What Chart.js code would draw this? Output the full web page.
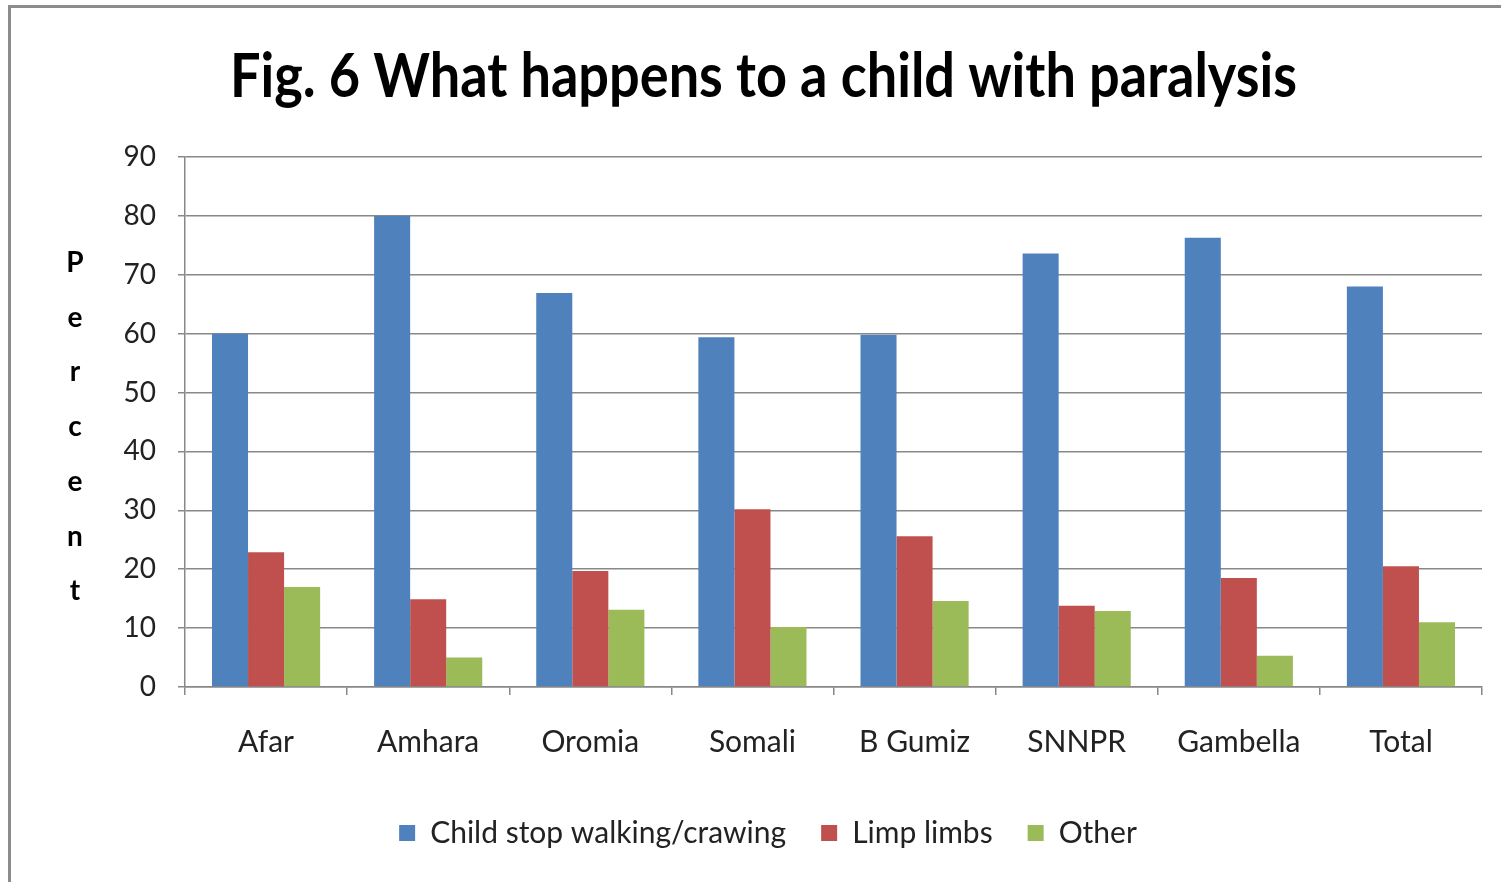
<!DOCTYPE html>
<html><head><meta charset="utf-8">
<script src="https://cdn.jsdelivr.net/npm/chart.js@4/dist/chart.umd.min.js"></script>
<style>
html,body{margin:0;padding:0;background:#fff;}
#wrap{position:relative;width:1501px;height:882px;overflow:hidden;}
#frame{position:absolute;left:8px;top:5px;width:1600px;height:1000px;border-top:3px solid #8c8c8c;border-left:3px solid #8c8c8c;}
canvas{position:absolute;left:0;top:0;}
</style></head><body>
<div id="wrap"><div id="frame"></div><canvas id="c" width="1501" height="882"></canvas></div>
<script>
const categories = ['Afar','Amhara','Oromia','Somali','B Gumiz','SNNPR','Gambella','Total'];
const childStop = [60.0, 80.0, 66.9, 59.4, 59.8, 73.6, 76.3, 68.0];
const limpLimbs = [22.9, 14.9, 19.7, 30.2, 25.6, 13.8, 18.5, 20.5];
const other = [17.0, 5.0, 13.1, 10.2, 14.6, 12.9, 5.3, 11.0];
const seriesNames = ['Child stop walking/crawing','Limp limbs','Other'];
const titleText = 'Fig. 6 What happens to a child with paralysis';
const yTitleLetters = ['P','e','r','c','e','n','t'];
const yMin = 0, yMax = 90, yStep = 10;

const FONT = 'Lato, "Open Sans", sans-serif';

const decor = {
  id: 'decor',
  afterDraw(chart) {
    const ctx = chart.ctx;
    ctx.save();
    ctx.font = 'bold 62px ' + FONT;
    ctx.fillStyle = '#000';
    ctx.textBaseline = 'alphabetic';
    ctx.textAlign = 'left';
    const w = ctx.measureText(titleText).width;
    const sx = 1067 / w;
    ctx.translate(230, 97);
    ctx.scale(sx, 1);
    ctx.fillText(titleText, 0, 0);
    ctx.restore();
    ctx.save();
    ctx.font = 'bold 28px ' + FONT;
    ctx.fillStyle = '#000';
    ctx.textAlign = 'center';
    ctx.textBaseline = 'middle';
    yTitleLetters.forEach((ch, i) => ctx.fillText(ch, 75, 263 + i * 54.7));
    ctx.restore();
  }
};

new Chart(document.getElementById('c'), {
  type: 'bar',
  data: {
    labels: categories,
    datasets: [
      { label: seriesNames[0], data: childStop, backgroundColor: '#4F81BD' },
      { label: seriesNames[1], data: limpLimbs, backgroundColor: '#C0504D' },
      { label: seriesNames[2], data: other, backgroundColor: '#9BBB59' }
    ]
  },
  options: {
    responsive: false,
    animation: false,
    devicePixelRatio: 1,
    datasets: { bar: { categoryPercentage: 0.667, barPercentage: 1.0 } },
    layout: { padding: { top: 157, right: 19, left: 54, bottom: 24 } },
    plugins: {
      title: { display: false },
      tooltip: { enabled: false },
      legend: {
        position: 'bottom',
        labels: {
          boxWidth: 16, boxHeight: 16, padding: 35,
          color: '#222',
          font: { family: FONT, size: 30 }
        }
      }
    },
    scales: {
      x: {
        offset: true,
        afterFit: s => { s.height = 96; },
        grid: { offset: true, drawOnChartArea: false, drawTicks: true, tickLength: 8, color: '#888', lineWidth: 1.5 },
        border: { color: '#888', width: 1.5 },
        ticks: { color: '#222', padding: 29, font: { family: FONT, size: 30 } }
      },
      y: {
        min: yMin, max: yMax,
        afterFit: s => { s.width = 131; },
        grid: { color: '#888', lineWidth: 1.5, tickLength: 7 },
        border: { color: '#888', width: 1.5 },
        ticks: { stepSize: yStep, color: '#222', padding: 22, font: { family: FONT, size: 28 } }
      }
    }
  },
  plugins: [decor]
});
</script>
</body></html>
